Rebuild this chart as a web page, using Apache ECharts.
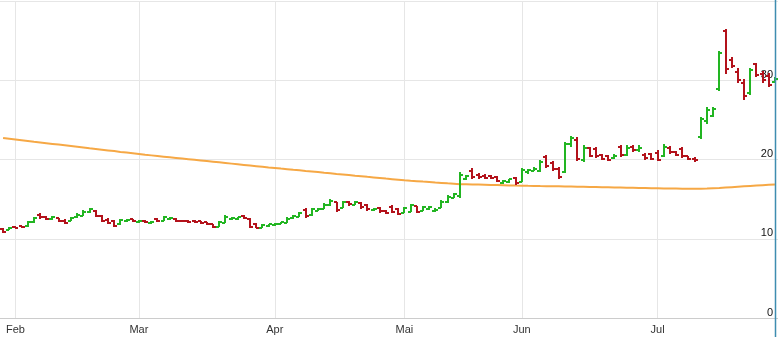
<!DOCTYPE html>
<html>
<head>
<meta charset="utf-8">
<script src="https://cdn.jsdelivr.net/npm/echarts@6/dist/echarts.min.js"></script>
<style>
  html, body { margin: 0; padding: 0; background: #fff; }
  #chart { width: 778px; height: 337px; }
</style>
</head>
<body>
<div id="chart"></div>
<script>
// Trading sessions per month (the window opens with the last two January sessions)
const monthNames = ['Jan', 'Feb', 'Mar', 'Apr', 'Mai', 'Jun', 'Jul'];
const sessionsPerMonth = [2, 20, 22, 21, 19, 22, 20];

// Daily OHLC prices
const opens = [
  11.2, 11.1, 11.5, 11.55, 11.6, 12.1, 13.0, 12.8, 12.5, 12.6,
  12.3, 12.3, 12.7, 12.9, 13.4, 13.55, 12.9, 12.4, 12.2, 11.8,
  12.2, 12.45, 12.15, 12.3, 11.95, 12.5, 12.3, 12.55, 12.55, 12.3,
  12.3, 12.3, 12.2, 12.1, 11.85, 11.5, 12.0, 12.5, 12.55, 12.85,
  12.5, 11.8, 11.4, 11.55, 11.7, 11.9, 12.05, 12.6, 12.8, 13.6,
  12.95, 13.55, 13.8, 14.2, 14.6, 13.9, 14.6, 14.3, 14.55, 14.2,
  13.65, 13.9, 13.5, 14.0, 13.7, 13.3, 13.4, 14.1, 13.5, 13.7,
  13.45, 13.9, 14.6, 15.2, 15.4, 17.6, 18.6, 18.1, 17.95, 17.9,
  17.75, 17.0, 17.1, 17.7, 17.2, 18.4, 18.6, 18.5, 20.3, 19.6,
  18.8, 18.4, 21.9, 22.4, 20.0, 21.5, 21.3, 20.6, 20.4, 20.2,
  21.6, 20.6, 21.6, 21.2, 20.6, 20.7, 20.8, 20.4, 21.5, 21.0,
  21.3, 20.4, 20.1, 22.9, 24.8, 25.5, 28.9, 36.2, 32.6, 31.0,
  29.6, 28.4, 32.0, 30.8, 30.5, 29.8
];
const highs = [
  11.35, 11.45, 11.6, 11.65, 12.2, 12.75, 13.25, 12.9, 12.85, 12.65,
  12.5, 12.75, 13.2, 13.6, 13.9, 13.65, 13.0, 12.6, 12.35, 12.55,
  12.5, 12.5, 12.4, 12.35, 12.2, 12.6, 12.85, 12.75, 12.6, 12.35,
  12.35, 12.35, 12.25, 12.15, 11.9, 12.3, 12.95, 12.75, 12.75, 13.0,
  12.6, 11.95, 11.8, 11.9, 11.95, 12.15, 12.7, 13.0, 13.35, 13.85,
  13.85, 13.85, 14.5, 15.0, 14.7, 14.75, 14.8, 14.75, 14.6, 14.4,
  13.85, 14.0, 13.6, 14.2, 13.85, 14.0, 14.35, 14.15, 14.1, 14.1,
  13.85, 14.85, 15.5, 15.75, 18.4, 18.1, 18.9, 18.25, 18.15, 18.1,
  17.95, 17.45, 17.6, 17.85, 18.9, 18.85, 19.0, 19.9, 20.6, 19.75,
  19.0, 22.2, 23.0, 22.9, 21.8, 21.6, 21.6, 20.7, 20.6, 20.7,
  21.8, 21.8, 21.85, 21.8, 20.8, 20.8, 21.2, 21.9, 21.7, 21.1,
  21.6, 20.5, 20.3, 25.4, 26.6, 26.6, 33.75, 36.5, 32.9, 31.5,
  30.2, 31.6, 32.2, 31.2, 30.9, 30.4
];
const lows = [
  10.7, 11.05, 11.3, 11.35, 11.5, 12.05, 12.5, 12.35, 12.4, 12.1,
  11.8, 12.2, 12.6, 12.85, 13.3, 12.75, 12.1, 11.85, 11.45, 11.75,
  12.1, 12.1, 12.05, 11.95, 11.85, 12.1, 12.2, 12.35, 12.1, 12.1,
  12.05, 11.95, 11.85, 11.7, 11.35, 11.45, 11.95, 12.35, 12.4, 12.45,
  11.35, 11.3, 11.35, 11.5, 11.6, 11.85, 12.0, 12.5, 12.7, 12.6,
  12.9, 13.45, 13.75, 14.15, 13.35, 13.85, 14.1, 14.2, 13.8, 13.55,
  13.55, 13.3, 13.1, 13.2, 13.0, 13.2, 13.35, 13.2, 13.45, 13.6,
  13.35, 13.85, 14.5, 15.1, 15.2, 17.4, 17.6, 17.55, 17.55, 17.5,
  17.2, 16.95, 17.05, 16.8, 17.1, 18.2, 18.5, 18.4, 18.9, 18.6,
  17.6, 18.3, 21.6, 19.8, 19.7, 20.3, 20.2, 19.9, 19.85, 20.1,
  20.3, 20.4, 21.0, 21.0, 19.9, 19.9, 19.85, 20.3, 20.7, 20.4,
  20.2, 19.9, 19.7, 22.6, 24.5, 25.3, 28.6, 30.8, 31.5, 29.6,
  27.5, 28.2, 30.4, 29.7, 29.1, 29.6
];
const closes = [
  10.85, 11.35, 11.4, 11.45, 12.1, 12.6, 12.7, 12.5, 12.7, 12.3,
  11.95, 12.65, 13.05, 13.4, 13.75, 12.9, 12.3, 12.0, 11.6, 12.4,
  12.4, 12.2, 12.3, 12.1, 12.15, 12.3, 12.7, 12.65, 12.25, 12.2,
  12.15, 12.1, 12.0, 11.85, 11.5, 12.15, 12.8, 12.65, 12.7, 12.6,
  11.5, 11.4, 11.7, 11.8, 11.9, 12.1, 12.55, 12.85, 13.2, 12.85,
  13.7, 13.7, 14.3, 14.8, 13.6, 14.6, 14.35, 14.6, 14.0, 13.75,
  13.8, 13.45, 13.25, 13.35, 13.15, 13.85, 14.2, 13.4, 13.95, 13.95,
  13.6, 14.6, 15.3, 15.6, 18.0, 17.95, 17.85, 17.75, 17.7, 17.65,
  17.35, 17.35, 17.5, 17.0, 18.7, 18.7, 18.85, 19.7, 19.2, 18.8,
  17.8, 21.9, 22.7, 20.1, 21.5, 20.5, 20.4, 20.1, 20.0, 20.5,
  20.6, 21.5, 21.2, 21.5, 20.2, 20.1, 20.0, 21.6, 21.0, 20.6,
  20.4, 20.1, 19.9, 25.1, 26.3, 26.4, 33.5, 31.4, 31.8, 30.0,
  28.0, 31.3, 30.7, 30.0, 29.4, 30.1
];

// Long-term moving average of the close
const movingAvg = [
  22.70, 22.61, 22.52, 22.43, 22.34, 22.24, 22.15, 22.06, 21.97, 21.88,
  21.79, 21.70, 21.61, 21.52, 21.42, 21.33, 21.24, 21.15, 21.06, 20.96,
  20.87, 20.78, 20.69, 20.60, 20.52, 20.44, 20.36, 20.28, 20.20, 20.12,
  20.04, 19.96, 19.88, 19.80, 19.72, 19.64, 19.56, 19.48, 19.40, 19.32,
  19.24, 19.16, 19.08, 19.00, 18.93, 18.85, 18.78, 18.70, 18.63, 18.55,
  18.48, 18.41, 18.33, 18.26, 18.18, 18.11, 18.04, 17.96, 17.89, 17.81,
  17.74, 17.67, 17.59, 17.52, 17.45, 17.38, 17.32, 17.27, 17.21, 17.16,
  17.10, 17.05, 16.99, 16.94, 16.89, 16.87, 16.85, 16.83, 16.81, 16.79,
  16.77, 16.75, 16.73, 16.71, 16.70, 16.68, 16.67, 16.65, 16.64, 16.62,
  16.61, 16.59, 16.58, 16.56, 16.55, 16.53, 16.52, 16.50, 16.49, 16.47,
  16.46, 16.44, 16.43, 16.41, 16.40, 16.38, 16.37, 16.35, 16.34, 16.33,
  16.32, 16.31, 16.30, 16.30, 16.33, 16.37, 16.41, 16.46, 16.51, 16.56,
  16.61, 16.66, 16.71, 16.76, 16.81, 16.86
];

const yTicks = { min: 0, max: 40, step: 10 };

const UP = '#22b522';
const DOWN = '#b3121b';

// One category per session; the first session of each full month carries the month name
const categories = [];
const monthStart = new Set();
sessionsPerMonth.forEach((n, m) => {
  for (let k = 0; k < n; k++) {
    if (k === 0 && m > 0) monthStart.add(categories.length);
    categories.push(monthNames[m] + ' ' + (k + 1));
  }
});
const showMonth = (idx) => monthStart.has(idx);

const ohlc = opens.map((o, i) => [i, o, highs[i], lows[i], closes[i]]);

// OHLC bar: high-low stem, open tick to the left, close tick to the right
function renderBar(params, api) {
  const i = api.value(0);
  const o = api.coord([i, api.value(1)]);
  const h = api.coord([i, api.value(2)]);
  const l = api.coord([i, api.value(3)]);
  const c = api.coord([i, api.value(4)]);
  const x = Math.round(o[0]);
  const yo = Math.round(o[1]);
  const yc = Math.round(c[1]);
  const color = api.value(4) >= api.value(1) ? UP : DOWN;
  const st = { stroke: color, lineWidth: 2 };
  return {
    type: 'group',
    children: [
      { type: 'line', shape: { x1: x, y1: Math.round(h[1]), x2: x, y2: Math.round(l[1]) }, style: st },
      { type: 'line', shape: { x1: x - 3, y1: yo, x2: x, y2: yo }, style: st },
      { type: 'line', shape: { x1: x, y1: yc, x2: x + 3, y2: yc }, style: st }
    ]
  };
}

const chart = echarts.init(document.getElementById('chart'), null, { renderer: 'canvas' });
chart.setOption({
  animation: false,
  backgroundColor: '#fff',
  grid: { left: 0, right: 0, top: 1, bottom: 19, containLabel: false },
  xAxis: {
    type: 'category',
    data: categories,
    boundaryGap: true,
    axisLine: { show: true, lineStyle: { color: '#cccccc', width: 1 } },
    axisTick: { show: false },
    axisLabel: {
      interval: showMonth,
      formatter: (v) => v.split(' ')[0],
      color: '#333',
      fontSize: 11,
      fontFamily: 'Liberation Sans, Arial, sans-serif',
      margin: 6
    },
    splitLine: {
      show: true,
      interval: showMonth,
      alignWithLabel: true,
      lineStyle: { color: '#e6e6e6', width: 1 }
    }
  },
  yAxis: {
    type: 'value',
    position: 'right',
    min: yTicks.min,
    max: yTicks.max,
    interval: yTicks.step,
    axisLine: { show: false },
    axisTick: { show: false },
    axisLabel: {
      inside: true,
      margin: 5,
      verticalAlign: 'bottom',
      color: '#111',
      fontSize: 11,
      fontFamily: 'Liberation Sans, Arial, sans-serif',
      formatter: (v) => (v === yTicks.max ? '' : String(v))
    },
    splitLine: { show: true, lineStyle: { color: '#e6e6e6', width: 1 } }
  },
  series: [
    {
      name: 'GD',
      type: 'line',
      data: movingAvg,
      showSymbol: false,
      symbol: 'none',
      z: 1,
      lineStyle: { color: '#f6a845', width: 2 }
    },
    {
      name: 'Kurs',
      type: 'custom',
      renderItem: renderBar,
      data: ohlc,
      encode: { x: 0, y: [1, 2, 3, 4] },
      z: 3
    }
  ],
  graphic: [
    {
      type: 'line',
      z: 100,
      shape: { x1: 775.5, y1: 0, x2: 775.5, y2: 337 },
      style: { stroke: '#3e8db0', lineWidth: 1.5 }
    }
  ]
});
</script>
</body>
</html>
